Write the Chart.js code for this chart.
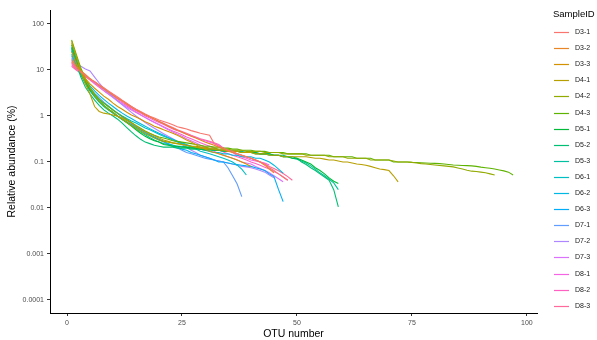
<!DOCTYPE html>
<html>
<head>
<meta charset="utf-8">
<script src="https://cdn.jsdelivr.net/npm/chart.js@4.4.1/dist/chart.umd.min.js"></script>
<style>
  html, body { margin: 0; padding: 0; background: #fff; }
  #wrap { width: 597px; height: 340px; }
</style>
</head>
<body>
<div id="wrap"><canvas id="chart"></canvas></div>
<script>
// sample names, in legend order
const sampleIds = ["D3-1", "D3-2", "D3-3", "D4-1", "D4-2", "D4-3", "D5-1", "D5-2", "D5-3",
                   "D6-1", "D6-2", "D6-3", "D7-1", "D7-2", "D7-3", "D8-1", "D8-2", "D8-3"];

// relative abundance (%) of each OTU, sorted by rank (OTU number 1..n)
const d3_1 = [15, 11, 9, 7.5, 6.2, 5.6, 4.8, 4.1, 3.5, 3.0, 2.6, 2.2, 1.9, 1.6, 1.4, 1.25, 1.1, 0.98, 0.9, 0.82,
  0.76, 0.7, 0.64, 0.58, 0.55, 0.52, 0.48, 0.45, 0.42, 0.4, 0.38, 0.25, 0.22, 0.2, 0.18, 0.17, 0.15, 0.14, 0.13, 0.12,
  0.11, 0.1, 0.09, 0.075, 0.065, 0.055, 0.047, 0.04];
const d3_2 = [17, 12, 9.5, 8, 6.5, 5.5, 4.6, 3.9, 3.3, 2.8, 2.4, 2.1, 1.8, 1.55, 1.35, 1.2, 1.05, 0.95, 0.85, 0.75,
  0.68, 0.6, 0.54, 0.49, 0.44, 0.4, 0.36, 0.33, 0.3, 0.27, 0.25, 0.23, 0.21, 0.19, 0.17, 0.16, 0.15, 0.14, 0.13, 0.12,
  0.11, 0.1, 0.085, 0.07, 0.058];
const d3_3 = [25, 14, 9, 6.5, 5, 4, 3.3, 2.7, 2.3, 1.9, 1.6, 1.4, 1.2, 1.05, 0.95, 0.85, 0.75, 0.68, 0.6, 0.55,
  0.5, 0.46, 0.42, 0.38, 0.34, 0.3, 0.27, 0.24, 0.21, 0.19, 0.17, 0.16, 0.15, 0.14, 0.13, 0.12, 0.11, 0.1, 0.09, 0.08];
const d4_1 = [42, 20, 9, 5, 3, 1.6, 1.25, 1.15, 1.1, 1.05, 0.98, 0.9, 0.8, 0.7, 0.6, 0.52, 0.46, 0.41, 0.37, 0.33,
  0.3, 0.28, 0.26, 0.25, 0.24, 0.23, 0.22, 0.21, 0.2, 0.2, 0.19, 0.19, 0.18, 0.18, 0.17, 0.17, 0.17, 0.16, 0.16, 0.16,
  0.15, 0.15, 0.15, 0.14, 0.14, 0.14, 0.13, 0.13, 0.13, 0.13, 0.13, 0.13, 0.125, 0.12, 0.12, 0.115, 0.11, 0.11, 0.105, 0.1,
  0.1, 0.095, 0.09, 0.088, 0.085, 0.08, 0.075, 0.07, 0.068, 0.065, 0.05, 0.037];
const d4_2 = [38, 20, 10, 6, 4, 2.8, 2.1, 1.7, 1.4, 1.2, 1.0, 0.85, 0.72, 0.62, 0.54, 0.47, 0.41, 0.37, 0.33, 0.3,
  0.28, 0.27, 0.26, 0.25, 0.24, 0.23, 0.22, 0.22, 0.21, 0.21, 0.2, 0.2, 0.19, 0.19, 0.19, 0.18, 0.18, 0.18, 0.17, 0.17,
  0.17, 0.17, 0.16, 0.16, 0.16, 0.16, 0.15, 0.15, 0.15, 0.15, 0.15, 0.14, 0.14, 0.14, 0.14, 0.14, 0.13, 0.13, 0.13, 0.13,
  0.12, 0.12, 0.12, 0.12, 0.12, 0.11, 0.11, 0.11, 0.11, 0.11, 0.105, 0.1, 0.1, 0.1, 0.098, 0.095, 0.092, 0.09, 0.088, 0.086,
  0.084, 0.082, 0.08, 0.078, 0.074, 0.07, 0.066, 0.063, 0.062, 0.06, 0.058, 0.055, 0.052];
const d4_3 = [45, 22, 11, 6.5, 4.2, 3.0, 2.3, 1.9, 1.6, 1.35, 1.15, 0.98, 0.84, 0.72, 0.62, 0.54, 0.47, 0.42, 0.38, 0.35,
  0.33, 0.31, 0.29, 0.28, 0.27, 0.26, 0.25, 0.24, 0.23, 0.22, 0.22, 0.21, 0.21, 0.2, 0.2, 0.19, 0.19, 0.18, 0.18, 0.18,
  0.17, 0.17, 0.17, 0.16, 0.16, 0.16, 0.16, 0.15, 0.15, 0.15, 0.15, 0.15, 0.14, 0.14, 0.14, 0.14, 0.14, 0.13, 0.13, 0.13,
  0.13, 0.13, 0.12, 0.12, 0.12, 0.12, 0.11, 0.11, 0.11, 0.11, 0.1, 0.1, 0.1, 0.1, 0.098, 0.097, 0.096, 0.095, 0.094, 0.093,
  0.092, 0.09, 0.088, 0.086, 0.085, 0.084, 0.083, 0.082, 0.08, 0.077, 0.075, 0.073, 0.07, 0.067, 0.064, 0.06, 0.052];
const d5_1 = [35, 18, 9, 5.5, 3.8, 2.8, 2.1, 1.7, 1.4, 1.2, 1.0, 0.85, 0.72, 0.6, 0.5, 0.42, 0.36, 0.32, 0.29, 0.27,
  0.24, 0.23, 0.22, 0.22, 0.21, 0.21, 0.2, 0.2, 0.19, 0.19, 0.19, 0.18, 0.18, 0.18, 0.17, 0.17, 0.17, 0.16, 0.16, 0.16,
  0.16, 0.15, 0.15, 0.15, 0.14, 0.14, 0.13, 0.13, 0.12, 0.12, 0.11, 0.1, 0.09, 0.075, 0.065, 0.055, 0.045, 0.038, 0.034];
const d5_2 = [30, 14, 7, 4.2, 3.0, 2.2, 1.7, 1.35, 1.15, 1.0, 0.85, 0.7, 0.56, 0.45, 0.37, 0.31, 0.27, 0.25, 0.23, 0.22,
  0.21, 0.21, 0.21, 0.2, 0.2, 0.2, 0.19, 0.19, 0.19, 0.18, 0.18, 0.18, 0.18, 0.17, 0.17, 0.17, 0.17, 0.16, 0.16, 0.16,
  0.16, 0.15, 0.15, 0.15, 0.14, 0.14, 0.14, 0.13, 0.13, 0.12, 0.1, 0.088, 0.075, 0.065, 0.055, 0.047, 0.04, 0.025, 0.0105];
const d5_3 = [28, 15, 8, 5, 3.5, 2.6, 2.0, 1.6, 1.35, 1.15, 0.98, 0.84, 0.72, 0.62, 0.53, 0.45, 0.39, 0.34, 0.3, 0.27,
  0.25, 0.24, 0.23, 0.22, 0.22, 0.21, 0.21, 0.2, 0.2, 0.19, 0.19, 0.19, 0.18, 0.18, 0.18, 0.17, 0.17, 0.17, 0.16, 0.16,
  0.15, 0.15, 0.15, 0.14, 0.14, 0.14, 0.13, 0.13, 0.12, 0.115, 0.105, 0.095, 0.082, 0.07, 0.058, 0.05, 0.042, 0.035, 0.025];
const d6_1 = [32, 16, 9, 5.5, 3.8, 2.9, 2.3, 1.9, 1.6, 1.35, 1.15, 1.0, 0.88, 0.78, 0.7, 0.62, 0.55, 0.5, 0.45, 0.4,
  0.36, 0.33, 0.3, 0.27, 0.25, 0.23, 0.21, 0.19, 0.17, 0.16, 0.15, 0.14, 0.13, 0.12, 0.11, 0.1, 0.085, 0.07, 0.052];
const d6_2 = [22, 13, 8.5, 6, 4.5, 3.5, 2.8, 2.3, 1.9, 1.6, 1.35, 1.15, 1.0, 0.88, 0.77, 0.68, 0.6, 0.53, 0.47, 0.42,
  0.38, 0.34, 0.31, 0.28, 0.26, 0.24, 0.22, 0.2, 0.19, 0.18, 0.17, 0.16, 0.16, 0.15, 0.15, 0.14, 0.14, 0.13, 0.13, 0.13,
  0.12, 0.12, 0.11, 0.1, 0.085, 0.07, 0.057];
const d6_3 = [26, 14, 8, 5.2, 3.6, 2.7, 2.1, 1.7, 1.4, 1.15, 0.98, 0.85, 0.74, 0.65, 0.57, 0.5, 0.44, 0.39, 0.35, 0.31,
  0.28, 0.25, 0.23, 0.21, 0.19, 0.18, 0.16, 0.15, 0.14, 0.13, 0.12, 0.11, 0.1, 0.1, 0.095, 0.09, 0.088, 0.085, 0.082, 0.08,
  0.075, 0.07, 0.065, 0.055, 0.048, 0.025, 0.0137];
const d7_1 = [20, 12, 8, 5.5, 4, 3.1, 2.5, 2.0, 1.65, 1.35, 1.12, 0.95, 0.8, 0.68, 0.58, 0.5, 0.43, 0.38, 0.34, 0.3,
  0.27, 0.24, 0.22, 0.2, 0.18, 0.16, 0.15, 0.14, 0.13, 0.12, 0.115, 0.11, 0.105, 0.1, 0.075, 0.05, 0.033, 0.0176];
const d7_2 = [18, 14, 12, 10.5, 9.5, 7, 5.2, 4, 3.2, 2.6, 2.1, 1.75, 1.45, 1.2, 1.0, 0.85, 0.72, 0.62, 0.54, 0.47,
  0.41, 0.36, 0.32, 0.28, 0.24, 0.21, 0.18, 0.16, 0.14, 0.13, 0.12, 0.11, 0.105, 0.1, 0.095, 0.09, 0.085, 0.08, 0.078, 0.075,
  0.07, 0.065, 0.06, 0.052, 0.045];
const d7_3 = [16, 12, 9.5, 7.8, 6.4, 5.3, 4.4, 3.6, 3.0, 2.5, 2.1, 1.8, 1.55, 1.35, 1.18, 1.05, 0.92, 0.82, 0.72, 0.64,
  0.57, 0.5, 0.45, 0.4, 0.36, 0.32, 0.29, 0.26, 0.23, 0.21, 0.19, 0.17, 0.15, 0.14, 0.13, 0.12, 0.11, 0.1, 0.095, 0.09,
  0.08, 0.072, 0.065, 0.058, 0.05, 0.043, 0.037];
const d8_1 = [14, 11, 9, 7.5, 6.3, 5.3, 4.5, 3.8, 3.2, 2.75, 2.35, 2.0, 1.72, 1.5, 1.3, 1.15, 1.0, 0.9, 0.8, 0.72,
  0.65, 0.58, 0.52, 0.48, 0.44, 0.4, 0.37, 0.34, 0.31, 0.29, 0.27, 0.25, 0.23, 0.2, 0.18, 0.16, 0.14, 0.13, 0.12, 0.11,
  0.105, 0.1, 0.095, 0.086];
const d8_2 = [13, 10.5, 8.8, 7.2, 6, 5, 4.2, 3.5, 3.0, 2.6, 2.2, 1.9, 1.65, 1.42, 1.22, 1.06, 0.93, 0.82, 0.73, 0.65,
  0.58, 0.52, 0.47, 0.43, 0.39, 0.35, 0.32, 0.29, 0.26, 0.24, 0.22, 0.2, 0.18, 0.165, 0.15, 0.14, 0.13, 0.12, 0.11, 0.1,
  0.092, 0.085, 0.077, 0.07, 0.062, 0.055, 0.047, 0.04];
const d8_3 = [12, 10, 8.5, 7.2, 6.2, 5.4, 4.6, 4, 3.4, 2.9, 2.5, 2.15, 1.85, 1.6, 1.4, 1.22, 1.08, 0.96, 0.86, 0.77,
  0.69, 0.62, 0.56, 0.5, 0.46, 0.42, 0.38, 0.35, 0.32, 0.3, 0.28, 0.26, 0.24, 0.2, 0.18, 0.165, 0.15, 0.14, 0.13, 0.12,
  0.11, 0.1, 0.09, 0.08, 0.072, 0.064, 0.056, 0.048, 0.04];

const seriesValues = [d3_1, d3_2, d3_3, d4_1, d4_2, d4_3, d5_1, d5_2, d5_3,
                      d6_1, d6_2, d6_3, d7_1, d7_2, d7_3, d8_1, d8_2, d8_3];

// tick labels
const yTicks = [0.0001, 0.001, 0.01, 0.1, 1, 10, 100];
const yTickLabels = ["0.0001", "0.001", "0.01", "0.1", "1", "10", "100"];
const xTicks = [0, 25, 50, 75, 100];

// ggplot-like hue palette (hcl, c = 100, l = 65)
function hcl(h, c, l) {
  const hr = h * Math.PI / 180;
  const U = c * Math.cos(hr), V = c * Math.sin(hr);
  const Xn = 95.047, Yn = 100, Zn = 108.883;
  const den = Xn + 15 * Yn + 3 * Zn;
  const un = 4 * Xn / den, vn = 9 * Yn / den;
  const Y = Yn * Math.pow((l + 16) / 116, 3);
  const u = U / (13 * l) + un, v = V / (13 * l) + vn;
  const X = Y * 9 * u / (4 * v), Z = Y * (12 - 3 * u - 20 * v) / (4 * v);
  const x = X / 100, y = Y / 100, z = Z / 100;
  let rgb = [
    3.2404542 * x - 1.5371385 * y - 0.4985314 * z,
    -0.9692660 * x + 1.8760108 * y + 0.0415560 * z,
    0.0556434 * x - 0.2040259 * y + 1.0572252 * z
  ];
  rgb = rgb.map(t => {
    t = t <= 0.0031308 ? 12.92 * t : 1.055 * Math.pow(t, 1 / 2.4) - 0.055;
    return Math.round(Math.min(1, Math.max(0, t)) * 255);
  });
  return `rgb(${rgb[0]}, ${rgb[1]}, ${rgb[2]})`;
}
const colors = sampleIds.map((_, i) => hcl(15 + 360 * i / sampleIds.length, 100, 65));

const datasets = sampleIds.map((id, i) => ({
  label: id,
  data: seriesValues[i].map((v, k) => ({ x: k + 1, y: v })),
  borderColor: colors[i],
  backgroundColor: colors[i],
  borderWidth: 1.1,
  pointRadius: 0,
  tension: 0,
  fill: false
}));

// legend drawn ggplot style on the right
const sideLegend = {
  id: "sideLegend",
  afterDraw(chart) {
    const ctx = chart.ctx;
    ctx.save();
    ctx.fillStyle = "#000";
    ctx.font = "9.5px 'Liberation Sans', Arial, sans-serif";
    ctx.textBaseline = "middle";
    ctx.fillText("SampleID", 553, 14);
    ctx.font = "7px 'Liberation Sans', Arial, sans-serif";
    chart.data.datasets.forEach((ds, i) => {
      const y = Math.round(32 + i * 16.1) + 0.5;
      ctx.strokeStyle = ds.borderColor;
      ctx.lineWidth = 1.2;
      ctx.beginPath();
      ctx.moveTo(554, y);
      ctx.lineTo(569, y);
      ctx.stroke();
      ctx.fillStyle = "#1a1a1a";
      ctx.fillText(ds.label, 575, y);
    });
    ctx.restore();
  }
};

const tickFont = { family: "'Liberation Sans', Arial, sans-serif", size: 7 };
const titleFont = { family: "'Liberation Sans', Arial, sans-serif", size: 10.5 };

new Chart(document.getElementById("chart"), {
  type: "line",
  data: { datasets: datasets },
  options: {
    responsive: true,
    maintainAspectRatio: false,
    animation: false,
    layout: { padding: { left: 6, top: 10, right: 60, bottom: 0 } },
    plugins: {
      legend: { display: false },
      tooltip: { enabled: false }
    },
    scales: {
      x: {
        type: "linear",
        min: -3.7,
        max: 102.2,
        afterBuildTicks: (scale) => { scale.ticks = xTicks.map(v => ({ value: v })); },
        afterFit: (scale) => { scale.height = 27; },
        ticks: { color: "#4d4d4d", font: tickFont, padding: 3, maxRotation: 0 },
        grid: { drawOnChartArea: false, drawTicks: true, tickLength: 3, color: "#333" },
        border: { display: true, color: "#000", width: 1 },
        title: { display: true, text: "OTU number", color: "#000", font: titleFont, padding: { top: 1, bottom: 0 } }
      },
      y: {
        type: "logarithmic",
        min: 5.2e-5,
        max: 201,
        afterBuildTicks: (scale) => { scale.ticks = yTicks.map(v => ({ value: v })); },
        afterFit: (scale) => { scale.width = 44; },
        ticks: {
          color: "#4d4d4d", font: tickFont, padding: 3,
          callback: (v) => { const k = yTicks.indexOf(v); return k >= 0 ? yTickLabels[k] : ""; }
        },
        grid: { drawOnChartArea: false, drawTicks: true, tickLength: 3, color: "#333" },
        border: { display: true, color: "#000", width: 1 },
        title: { display: true, text: "Relative abundance (%)", color: "#000", font: titleFont, padding: { top: 0, bottom: 2 } }
      }
    }
  },
  plugins: [sideLegend]
});
</script>
</body>
</html>
